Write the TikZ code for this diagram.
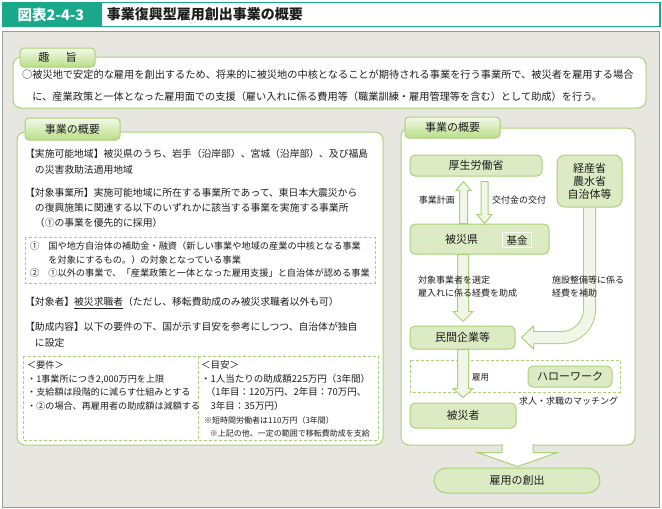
\documentclass[tikz,border=0pt]{standalone}
\usepackage{fontspec}
\setmainfont{Noto Sans CJK JP}
\usetikzlibrary{calc}
\definecolor{teal1}{RGB}{26,168,138}
\definecolor{panelbg}{RGB}{231,230,224}
\definecolor{leaf}{RGB}{170,210,120}
\definecolor{leaffill}{RGB}{220,235,196}
\definecolor{leaflight}{RGB}{241,247,232}
\definecolor{tabtop}{RGB}{243,249,234}
\definecolor{tabbot}{RGB}{186,222,135}
\definecolor{ink}{RGB}{30,30,30}
\newcommand{\arrdown}[5]{\filldraw[blockarr] let \p1=(#1), \p2=(#2) in (\x1-#3,\y1) -- (\x1-#3,\y2+#5) -- (\x1-#4,\y2+#5) -- (\x1,\y2) -- (\x1+#4,\y2+#5) -- (\x1+#3,\y2+#5) -- (\x1+#3,\y1) -- cycle;}
\newcommand{\arrup}[5]{\filldraw[blockarr] let \p1=(#1), \p2=(#2) in (\x1-#3,\y1) -- (\x1-#3,\y2-#5) -- (\x1-#4,\y2-#5) -- (\x1,\y2) -- (\x1+#4,\y2-#5) -- (\x1+#3,\y2-#5) -- (\x1+#3,\y1) -- cycle;}

\begin{document}
\begin{tikzpicture}[x=1pt,y=-1pt,
    every node/.style={text=ink, inner sep=0pt},
    box/.style={draw=leaf, fill=leaffill, rounded corners=5pt, line width=1pt, font=\fontsize{11}{13}\selectfont},
    panel/.style={draw=leaf, fill=white, rounded corners=8pt, line width=1pt},
    tab/.style={draw=leaf, rounded corners=4pt, line width=1pt, top color=tabtop, bottom color=tabbot, font=\fontsize{11}{13}\selectfont},
    dashbox/.style={draw=leaf, dash pattern=on 3pt off 2pt, line width=0.8pt},
    body/.style={anchor=base west, align=left, font=\fontsize{9.8}{16}\selectfont},
    small/.style={font=\fontsize{9}{13}\selectfont},
    blockarr/.style={draw=leaf, fill=leaflight, line width=1pt}]
    \useasboundingbox (0,0) rectangle (662,509);
    \draw[draw=gray!80, fill=panelbg, line width=1pt] (2,31) rectangle (659,507);
    \node[draw=teal1, line width=1.5pt, fill=white, anchor=west, minimum height=24pt, text width=547pt, inner xsep=6pt, align=left, font=\bfseries\fontsize{14}{16}\selectfont] (title) at (100,14.5) {事業復興型雇用創出事業の概要};
    \node[fill=teal1, text=white, minimum width=98pt, minimum height=25.5pt, font=\bfseries\fontsize{14.5}{16}\selectfont] (fignum) at (51,14.5) {図表2-4-3};

    \draw[panel] (13,57) rectangle (646,108);
    \node[tab, minimum width=75pt, minimum height=19pt] (aimtab) at (57.5,57.5) {趣\hspace{1.5em}旨};
    \node[body, font=\fontsize{10.2}{22}\selectfont] (aim) at (22,100.7) {○被災地で安定的な雇用を創出するため、将来的に被災地の中核となることが期待される事業を行う事業所で、被災者を雇用する場合\\\hspace*{1em}に、産業政策と一体となった雇用面での支援（雇い入れに係る費用等（職業訓練・雇用管理等を含む）として助成）を行う。};

    \draw[panel] (17,132) rectangle (383,445);
    \node[tab, minimum width=95pt, minimum height=22pt] (lefttab) at (72.5,129) {事業の概要};
    \node[body] (area) at (25,173) {【実施可能地域】被災県のうち、岩手（沿岸部）、宮城（沿岸部）、及び福島\\\hspace*{1em}の災害救助法適用地域};
    \node[body, font=\fontsize{9.8}{15}\selectfont] (office) at (25,226) {【対象事業所】実施可能地域に所在する事業所であって、東日本大震災から\\\hspace*{1em}の復興施策に関連する以下のいずれかに該当する事業を実施する事業所\\\hspace*{1em}（①の事業を優先的に採用）};
    \draw[dashbox] (25,237) rectangle (375,283);
    \node[body, font=\fontsize{9.2}{13.5}\selectfont] (items) at (30,276.5) {①\hspace{9pt}国や地方自治体の補助金・融資（新しい事業や地域の産業の中核となる事業\\\hspace*{18.2pt}を対象にするもの。）の対象となっている事業\\②\hspace{9pt}①以外の事業で、「産業政策と一体となった雇用支援」と自治体が認める事業};
    \node[body] (target) at (25,305.5) {【対象者】\underline{被災求職者}（ただし、移転費助成のみ被災求職者以外も可）};
    \node[body] (content) at (25,346.5) {【助成内容】以下の要件の下、国が示す目安を参考にしつつ、自治体が独自\\\hspace*{1em}に設定};
    \draw[dashbox] (23,356) rectangle (378,440);
    \draw[dashbox] (198,356) -- (198,440);
    \node[body, font=\fontsize{9.1}{13.5}\selectfont] (terms) at (27,409) {＜要件＞\\・1事業所につき2,000万円を上限\\・支給額は段階的に減らす仕組みとする\\・②の場合、再雇用者の助成額は減額する};
    \node[body, font=\fontsize{9.5}{13.5}\selectfont] (guide) at (201,409) {＜目安＞\\・1人当たりの助成額225万円（3年間）\\\hspace*{0.5em}（1年目：120万円、2年目：70万円、\\\hspace*{1em}3年目：35万円）};
    \node[body, font=\fontsize{8}{13}\selectfont] (notes) at (204,436) {※短時間労働者は110万円（3年間）\\\hspace*{0.7em}※上記の他、一定の範囲で移転費助成を支給};

    \draw[panel] (401,128) rectangle (635,445);
    \node[tab, minimum width=95pt, minimum height=21pt] (righttab) at (452.5,127.5) {事業の概要};
    \draw[dashbox] (410,360) rectangle (620,392);
    \node[box, minimum width=132pt, minimum height=21pt] (kosei) at (476,165.5) {厚生労働省};
    \node[box, rounded corners=8pt, minimum width=65pt, minimum height=52pt, align=center] (keisan) at (589.5,181) {経産省\\農水省\\自治体等};
    \node[box, minimum height=30pt, text width=139pt, align=left] (hisaiken) at (479.5,239) {\hspace*{35pt}被災県};
    \node[draw=ink!70, double, double distance=1pt, fill=leaffill, minimum width=29pt, minimum height=15pt, font=\fontsize{10.5}{12}\selectfont] (kikin) at (517,240) {基金};
    \node[box, minimum width=105pt, minimum height=23pt] (minkan) at (462.5,337.5) {民間企業等};
    \node[box, minimum width=84pt, minimum height=21pt] (hellowork) at (570,376.5) {ハローワーク};
    \node[box, minimum width=106pt, minimum height=25pt] (hisaisha) at (463,415.5) {被災者};
    \node[box, rounded corners=12.5pt, minimum width=166pt, minimum height=25pt] (koyo) at (517,480.5) {雇用の創出};

    \coordinate (planx) at (463.5,0);
    \coordinate (grantx) at (484.5,0);
    \coordinate (hirex) at (463,0);
    \coordinate (rpbottom) at (517.5,444);
    \arrup{hisaiken.north -| planx}{$(kosei.south -| planx)+(0,5)$}{4pt}{7.5pt}{9pt}
    \arrdown{$(kosei.south -| grantx)+(0,5)$}{hisaiken.north -| grantx}{3.5pt}{7.5pt}{9pt}
    \arrdown{hisaiken.south -| hirex}{$(minkan.north -| hirex)+(0,-4)$}{5.5pt}{10pt}{10pt}
    \arrdown{minkan.south -| hirex}{$(hisaisha.north -| hirex)+(0,-5)$}{5.5pt}{10pt}{9pt}
    \draw[draw=leaf, line width=1pt, double=leaflight, double distance=11pt, rounded corners=28pt] ($(keisan.south)+(0,0.5)$) |- ($(minkan.east)+(18,0)$);
    \filldraw[blockarr] let \p1=(minkan.east) in (\x1+18pt,\y1+6pt) -- (\x1+18pt,\y1+11.5pt) -- (\x1+6pt,\y1) -- (\x1+18pt,\y1-11.5pt) -- (\x1+18pt,\y1-6pt);
    \filldraw[blockarr, fill=white] let \p1=(rpbottom), \p2=($(koyo.north -| rpbottom)+(0,-1)$) in (\x1-15.5pt,\y1) -- (\x1-15.5pt,\y2+14pt) -- (\x1-40pt,\y2+14pt) -- (\x1,\y2) -- (\x1+40pt,\y2+14pt) -- (\x1+15.5pt,\y2+14pt) -- (\x1+15.5pt,\y1);

    \node[small, anchor=east] (planlbl) at (455,200) {事業計画};
    \node[small, anchor=west] (grantlbl) at (492,200) {交付金の交付};
    \node[small, anchor=base west, align=left] (selectlbl) at (418,296.5) {対象事業者を選定\\雇入れに係る経費を助成};
    \node[small, anchor=base west, align=left] (facilitylbl) at (552,296.5) {施設整備等に係る\\経費を補助};
    \node[font=\fontsize{8.5}{10}\selectfont, anchor=west] (hirelbl) at (472,377) {雇用};
    \node[small, anchor=west] (matchlbl) at (519,401) {求人・求職のマッチング};
\end{tikzpicture}
\end{document}
